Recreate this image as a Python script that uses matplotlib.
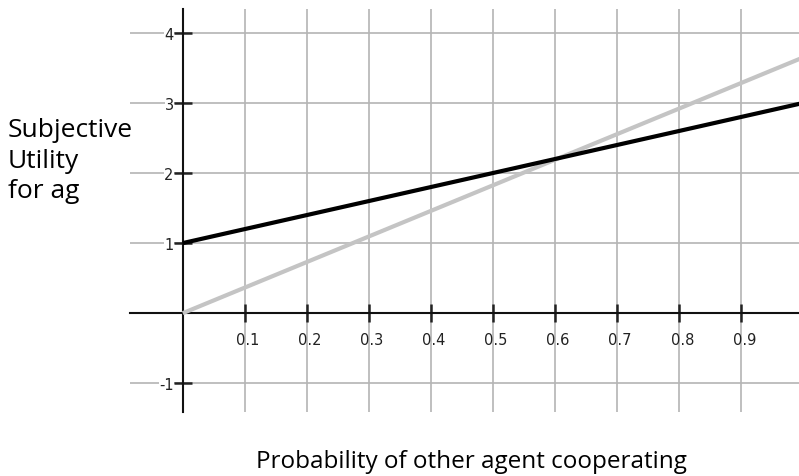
import matplotlib.pyplot as plt
import matplotlib.transforms as mtransforms
import numpy as np

prob = np.array([0.0, 1.0])
utility_black = np.array([1.0, 3.0])
utility_grey = np.array([0.0, 3.65])
x_ticks = [0.1, 0.2, 0.3, 0.4, 0.5, 0.6, 0.7, 0.8, 0.9]
x_tick_labels = ['0.1', '0.2', '0.3', '0.4', '0.5', '0.6', '0.7', '0.8', '0.9']
y_ticks = [-1, 1, 2, 3, 4]
y_tick_labels = ['-1', '1', '2', '3', '4']

fig = plt.figure(figsize=(7.99, 4.77), dpi=100)
ax = fig.add_axes([130 / 799, 64 / 477, 669 / 799, 403 / 477])

ax.set_xlim(-0.085, 0.993)
ax.set_ylim(-1.41, 4.34)

ax.spines['left'].set_position(('data', 0))
ax.spines['bottom'].set_position(('data', 0))
ax.spines['right'].set_visible(False)
ax.spines['top'].set_visible(False)
for s in ('left', 'bottom'):
    ax.spines[s].set_linewidth(1.5)
    ax.spines[s].set_color('#111111')

for xv in x_ticks:
    ax.axvline(xv, color='#b4b4b4', lw=1.2, zorder=0)
for yv in y_ticks:
    ax.axhline(yv, color='#b4b4b4', lw=1.2, zorder=0)

ax.plot(prob, utility_grey, color='#c4c4c4', lw=3, zorder=3, solid_capstyle='butt')
ax.plot(prob, utility_black, color='black', lw=3, zorder=4, solid_capstyle='butt')

ax.set_xticks(x_ticks)
ax.set_xticklabels(x_tick_labels)
ax.set_yticks(y_ticks)
ax.set_yticklabels(y_tick_labels)
ax.tick_params(axis='x', direction='inout', length=13, width=1.8, pad=7, labelsize=10.5, colors='#222222')
ax.tick_params(axis='y', direction='inout', length=13, width=1.8, pad=0, labelsize=10.5, colors='#222222')

shift = mtransforms.ScaledTranslation(3 / 100, 0, fig.dpi_scale_trans)
for lab in ax.get_xticklabels():
    lab.set_transform(lab.get_transform() + shift)
for lab in ax.get_yticklabels():
    lab.set_bbox(dict(facecolor='white', edgecolor='none', pad=0))

fig.text(8 / 799, 1 - 161 / 477, 'Subjective\nUtility\nfor ag', family='Open Sans',
         fontsize=19, ha='left', va='center', linespacing=1.3)
fig.text(471 / 799, 1 - 462 / 477, 'Probability of other agent cooperating', family='Open Sans',
         fontsize=17.5, ha='center', va='center')

fig.savefig('out.png', dpi=100)
